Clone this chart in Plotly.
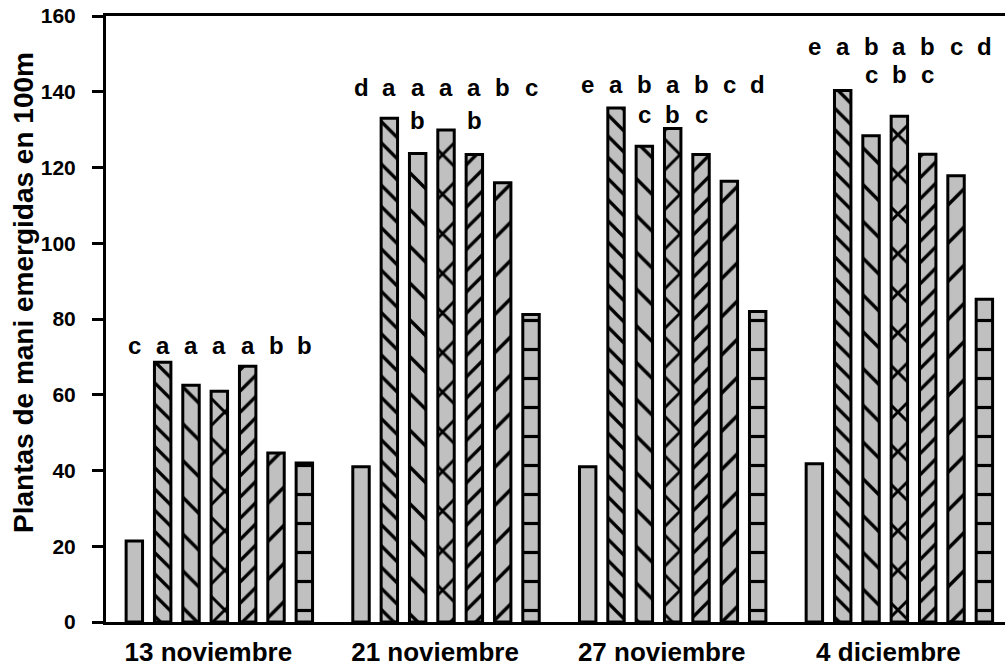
import plotly.graph_objects as go

# ---- data ----
dates = ["13 noviembre", "21 noviembre", "27 noviembre", "4 diciembre"]
t1 = [21.4, 41.0, 41.0, 41.8]
t2 = [68.6, 133.0, 135.7, 140.3]
t3 = [62.5, 123.7, 125.6, 128.4]
t4 = [60.9, 129.9, 130.3, 133.5]
t5 = [67.5, 123.4, 123.4, 123.5]
t6 = [44.6, 116.0, 116.4, 117.8]
t7 = [42.0, 81.2, 82.0, 85.2]
series = [t1, t2, t3, t4, t5, t6, t7]

letters_row1 = [
    ["c", "a", "a", "a", "a", "b", "b"],
    ["d", "a", "a", "a", "a", "b", "c"],
    ["e", "a", "b", "a", "b", "c", "d"],
    ["e", "a", "b", "a", "b", "c", "d"],
]
letters_row2 = [
    ["", "", "", "", "", "", ""],
    ["", "", "b", "", "b", "", ""],
    ["", "", "c", "b", "c", "", ""],
    ["", "", "c", "b", "c", "", ""],
]
row1_y = [73.0, 141.0, 142.0, 152.0]
row2_y = [None, 132.5, 134.0, 144.5]

y_title = "Plantas de mani emergidas en 100m"

# ---- styles ----
FONT = "Arial, Liberation Sans, sans-serif"
GREY = "#c0c0c0"
patterns = [
    dict(shape=""),
    dict(shape="\\", size=15, solidity=0.22),
    dict(shape="\\", size=26, solidity=0.13),
    dict(shape="x", size=28, solidity=0.2),
    dict(shape="/", size=15, solidity=0.22),
    dict(shape="/", size=27, solidity=0.13),
    dict(shape="-", size=29, solidity=0.11),
]
BARGAP = 0.125
BARGROUPGAP = 0.42

xs = list(range(len(dates)))
fig = go.Figure()
for vals, pat in zip(series, patterns):
    p = dict(pat)
    p.update(fgcolor="black", bgcolor=GREY, fillmode="replace")
    fig.add_trace(go.Bar(
        x=xs, y=vals,
        marker=dict(color=GREY, line=dict(color="black", width=3), pattern=p),
        showlegend=False,
    ))

slot = (1 - BARGAP) / len(series)
LFONT = dict(family=FONT, size=24, color="black", weight="bold")
ann = []
for g in range(len(dates)):
    for i in range(len(series)):
        xpos = g + (i - (len(series) - 1) / 2) * slot
        if letters_row1[g][i]:
            ann.append(dict(x=xpos, y=row1_y[g], text=letters_row1[g][i], showarrow=False,
                            xref="x", yref="y", font=LFONT))
        if letters_row2[g][i] and row2_y[g] is not None:
            ann.append(dict(x=xpos, y=row2_y[g], text=letters_row2[g][i], showarrow=False,
                            xref="x", yref="y", font=LFONT))

ann.append(dict(x=0, y=0.543, xref="paper", yref="paper", xshift=-82, text=y_title, textangle=-90,
                showarrow=False, xanchor="center", yanchor="middle",
                font=dict(family=FONT, size=28, color="black", weight="bold")))

fig.update_layout(
    width=1005, height=669,
    margin=dict(l=106, r=0, t=16, b=47, autoexpand=False),
    plot_bgcolor="white", paper_bgcolor="white",
    barmode="group", bargap=BARGAP, bargroupgap=BARGROUPGAP,
    annotations=ann,
    font=dict(family=FONT, color="black"),
)
fig.update_xaxes(
    range=[-0.5, 3.466], tickvals=xs, ticktext=dates, ticks="",
    showline=True, linecolor="black", linewidth=3, mirror=True,
    showgrid=False, zeroline=False, automargin=False,
    tickfont=dict(family=FONT, size=26, color="black", weight="bold"),
    ticklabelshift=-11, ticklabelstandoff=5, ticklabeloverflow="allow",
)
fig.update_yaxes(
    range=[0, 160], tickvals=[0, 20, 40, 60, 80, 100, 120, 140, 160],
    ticks="outside", ticklen=11, tickwidth=3, tickcolor="black",
    showline=True, linecolor="black", linewidth=3,
    showgrid=False, zeroline=False, automargin=False,
    tickfont=dict(family=FONT, size=21, color="black", weight="bold"),
    ticklabelstandoff=12, ticklabeloverflow="allow",
)
# remove the browser's default 8px body margin so the figure sits at the page origin
fig.write_html("out.html", config={"displayModeBar": False},
               post_script="document.body.style.margin='0';")
